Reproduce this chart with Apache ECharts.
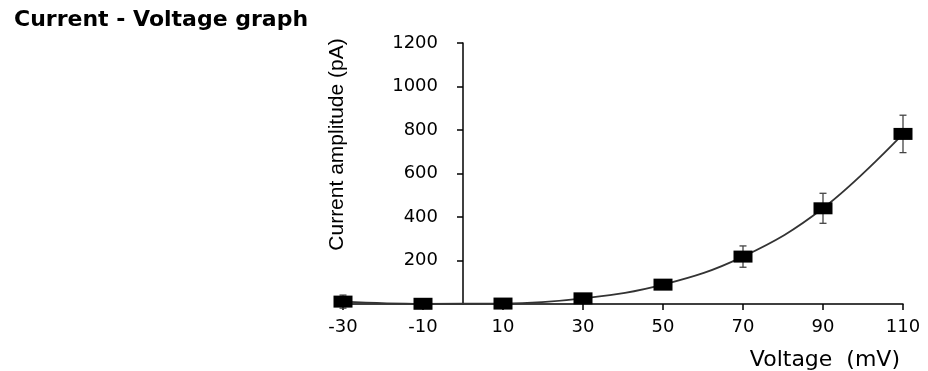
<!DOCTYPE html>
<html>
<head>
<meta charset="utf-8">
<script src="https://cdn.jsdelivr.net/npm/echarts@6/dist/echarts.min.js"></script>
<style>
html,body{margin:0;padding:0;background:#fff;}
#chart{width:928px;height:371px;}
</style>
</head>
<body>
<div id="chart"></div>
<script>
const voltages = [-30, -10, 10, 30, 50, 70, 90, 110];
const currents = [11, 1, 2, 26, 89, 218, 440, 782];
const errors   = [30, 8, 6, 8, 10, 49, 69, 86];
const yTicks = [0, 200, 400, 600, 800, 1000, 1200];

const pointData = voltages.map((v, i) => [v, currents[i]]);
const errData = voltages.map((v, i) => [v, currents[i] - errors[i], currents[i] + errors[i]]);

const chart = echarts.init(document.getElementById('chart'));
chart.setOption({
  animation: false,
  backgroundColor: '#ffffff',
  title: {
    text: 'Current - Voltage graph',
    left: 9, top: 4,
    textStyle: { fontFamily: 'DejaVu Sans', fontWeight: 'bold', fontSize: 22, color: '#000' }
  },
  grid: { left: 343, right: 25, top: 43, bottom: 65 },
  xAxis: {
    type: 'value',
    min: -30, max: 110, interval: 20,
    splitLine: { show: false },
    axisLine: { onZero: true, lineStyle: { color: '#000', width: 1.5 } },
    axisTick: { show: true, inside: false, length: 6, lineStyle: { color: '#000', width: 1.5 } },
    axisLabel: { margin: 14, fontFamily: 'DejaVu Sans', fontSize: 18, color: '#000' },
    name: 'Voltage  (mV)',
    nameLocation: 'end',
    nameGap: -3,
    nameTextStyle: { align: 'right', verticalAlign: 'top', padding: [45, 0, 0, 0],
      fontFamily: 'DejaVu Sans', fontSize: 22, color: '#000' }
  },
  yAxis: {
    type: 'value',
    min: yTicks[0], max: yTicks[yTicks.length - 1], interval: 200,
    offset: -120,
    splitLine: { show: false },
    axisLine: { show: true, onZero: false, lineStyle: { color: '#000', width: 1.5 } },
    axisTick: { show: true, length: 6, lineStyle: { color: '#000', width: 1.5 } },
    axisLabel: { margin: 25, fontFamily: 'DejaVu Sans', fontSize: 18, color: '#000',
      showMinLabel: false,
      formatter: function (v) { return v === 0 ? '' : String(v); } },
    name: 'Current amplitude (pA)',
    nameLocation: 'middle',
    nameRotate: 90,
    nameGap: 115,
    nameMoveOverlap: false,
    nameTextStyle: { fontFamily: 'Liberation Sans', fontSize: 21, color: '#000', padding: [0, 0, 0, 58] }
  },
  series: [
    {
      type: 'custom',
      z: 1,
      renderItem: function (params, api) {
        const x = api.value(0);
        const lo = api.coord([x, api.value(1)]);
        const hi = api.coord([x, api.value(2)]);
        const w = 3.5;
        const style = { stroke: '#444', lineWidth: 1.3 };
        return {
          type: 'group',
          children: [
            { type: 'line', shape: { x1: lo[0], y1: lo[1], x2: hi[0], y2: hi[1] }, style: style },
            { type: 'line', shape: { x1: lo[0] - w, y1: lo[1], x2: lo[0] + w, y2: lo[1] }, style: style },
            { type: 'line', shape: { x1: hi[0] - w, y1: hi[1], x2: hi[0] + w, y2: hi[1] }, style: style }
          ]
        };
      },
      encode: { x: 0, y: [1, 2] },
      data: errData,
      clip: false
    },
    {
      type: 'line',
      z: 3,
      data: pointData,
      smooth: 0.4,
      symbol: 'rect',
      symbolSize: [19, 12],
      itemStyle: { color: '#000' },
      lineStyle: { color: '#333', width: 1.8 },
      clip: false
    }
  ]
});
</script>
</body>
</html>
